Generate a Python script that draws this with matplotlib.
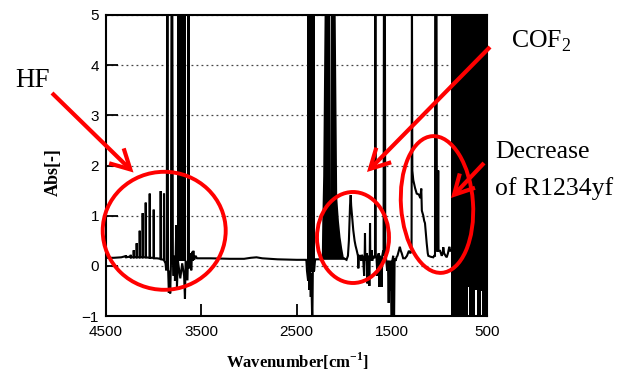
import matplotlib
matplotlib.use('Agg')
import matplotlib.pyplot as plt
from matplotlib.patches import Ellipse, FancyArrowPatch
from matplotlib.transforms import Affine2D

plt.rcParams['font.family'] = ['Liberation Sans', 'DejaVu Sans']
plt.rcParams['mathtext.fontset'] = 'custom'
plt.rcParams['mathtext.rm'] = 'Liberation Serif'
plt.rcParams['mathtext.bf'] = 'Liberation Serif:bold'
plt.rcParams['axes.unicode_minus'] = True

# ---------------- data ----------------
# spectrum trace: wavenumber [cm-1] and absorbance [-]
wavenumber = [
    4500, 4420, 4340, 4300, 4292, 4290, 4287, 4262, 4243, 4241, 4238,
    4211, 4209, 4206, 4180, 4178, 4175, 4148, 4146, 4143, 4117, 4115, 4112,
    4085, 4083, 4080, 4043, 4041, 4038, 4001, 3999, 3996, 3965, 3928, 3926, 3923,
    3893, 3891, 3888, 3875, 3868, 3862, 3858, 3853, 3849, 3840, 3832, 3826, 3818,
    3812, 3804, 3798, 3790, 3782, 3776, 3770, 3762, 3755, 3745, 3720, 3700, 3680, 3671, 3664,
    3645, 3640, 3634, 3629, 3622, 3612, 3605, 3596, 3590, 3583, 3575, 3560, 3545,
    3500, 3400, 3200, 3050, 2980, 2920, 2860, 2700, 2500, 2400,
    2396, 2390, 2378, 2372, 2365, 2358, 2350, 2345, 2334, 2328, 2315, 2306, 2300, 2250, 2240, 2230, 2000, 1985,
    1975, 1960, 1950, 1945, 1938, 1931, 1926, 1917, 1904, 1890, 1880, 1868, 1855, 1851, 1845, 1833,
    1820, 1812, 1800, 1790, 1784, 1781, 1778, 1770, 1762, 1756, 1750, 1742, 1735, 1731, 1728, 1725, 1718, 1711, 1705,
    1695, 1685, 1676, 1672, 1668, 1660, 1650, 1645, 1636, 1630, 1624, 1615, 1606, 1600, 1590, 1586, 1582, 1572, 1568,
    1560, 1548, 1540, 1532, 1526, 1518, 1512, 1500, 1494, 1485, 1476, 1470, 1460, 1448, 1440, 1425, 1415, 1405, 1395,
    1380, 1360, 1340, 1320, 1305, 1292, 1288,
    1284, 1274, 1255, 1238, 1215, 1200, 1190, 1184, 1169, 1160, 1151, 1140, 1133, 1122, 1116, 1090, 1064, 1055,
    1046, 1044, 1030, 1026, 1016, 1012, 1009, 993, 975, 965, 959, 950, 935, 923, 910, 896, 885, 878,
]
absorbance = [
    0.16, 0.16, 0.17, 0.19, 0.17, 0.21, 0.17, 0.18, 0.17, 0.22, 0.17,
    0.17, 0.31, 0.17, 0.17, 0.45, 0.17, 0.17, 0.70, 0.17, 0.17, 1.05, 0.17,
    0.17, 1.26, 0.17, 0.16, 1.44, 0.16, 0.16, 1.12, 0.15, 0.15, 0.14, 1.49, 0.13,
    0.12, 1.44, 0.10, 0.05, -0.09, 0.10, 5.5, 5.5, 0.00, -0.54, -0.10, -0.55, 0.05,
    5.5, 5.5, 0.10, -0.20, 0.20, -0.30, 0.10, 0.81, -0.42, 0.10, -0.25, 0.05, -0.20, -0.66, 0.10,
    -0.29, 0.15, 5.5, 0.15, -0.05, 0.25, -0.09, 0.28, 0.10, 0.30, 0.12, 0.20, 0.15,
    0.15, 0.15, 0.14, 0.14, 0.16, 0.17, 0.15, 0.13, 0.12, 0.12,
    0.10, -0.10, -0.30, 0.00, -0.48, 0.00, -0.62, -0.15, -1.2, 0.00, -0.10, 0.10, 0.13, 0.13, 0.12, 0.20, 0.15, 0.13,
    0.12, 0.20, 0.50, 0.80, 1.20, 1.41, 1.20, 1.00, 0.71, 0.50, 0.40, 0.31, 0.20, -0.05, 0.20, 0.20,
    0.10, 0.22, 0.15, -0.20, 0.20, 0.65, 0.20, 0.10, 0.25, -0.35, 0.20, 0.10, -0.40, 0.20, 0.85, 0.20, 0.10, 0.31, 0.10,
    0.20, 0.15, 0.20, 5.5, 0.20, 0.15, -0.20, 0.20, 0.25, -0.42, 0.20, 0.10, -0.42, 0.20, 0.30, 0.20, 5.5, 5.5, 0.20,
    0.15, -0.10, 0.10, -0.74, 0.10, -0.50, 0.10, -1.2, 0.10, 0.20, -1.2, 0.15, 0.10, 0.18, 0.20, 0.31, 0.38, 0.30, 0.25,
    0.15, 0.15, 0.20, 0.30, 0.25, 0.30, 5.5,
    1.90, 1.71, 1.55, 1.44, 1.42, 1.35, 1.54, 1.10, 1.00, 0.90, 0.85, 0.60, 0.45, 0.25, 0.20, 0.18, 0.17, 0.20,
    0.20, 5.5, 5.5, 0.30, 0.30, 1.90, 0.30, 0.30, 0.20, 0.25, 0.37, 0.25, 0.20, 0.17, 0.25, 0.38, 0.30, 0.30,
]
assert len(wavenumber) == len(absorbance)

# saturated (off-scale) absorption bands: HF P-branch and CO2
sat_band_start = [3758, 2393]
sat_band_end = [3660, 2306]
sat_band_floor = [0.10, -0.12]

# CO band envelope (dense rotational lines)
co_wn = [2240, 2235, 2225, 2215, 2208, 2152, 2148, 2144, 2096, 2078, 2060, 2043, 2025, 2009, 1995]
co_top = [0.13, 0.85, 1.80, 4.00, 5.5, 5.5, 1.30, 5.5, 5.5, 1.38, 0.90, 0.58, 0.35, 0.18, 0.13]

# fully saturated low-wavenumber region, lower edge
black_wn = [880, 698, 698, 694, 694, 628, 628, 608, 608, 558, 558, 553, 553, 500]
black_low = [-1, -1, -0.42, -0.42, -1, -1, -0.48, -0.48, -1, -1, -0.50, -0.50, -1, -1]

x_ticks = [4500, 3500, 2500, 1500, 500]
y_ticks = [-1, 0, 1, 2, 3, 4, 5]

# ---------------- figure ----------------
W, H = 628, 371
fig = plt.figure(figsize=(W / 100, H / 100), dpi=100)
ax = fig.add_axes([106 / W, 1 - 316 / H, 381 / W, 301 / H])

ax.plot(wavenumber, absorbance, color='black', lw=1.5, zorder=3, solid_joinstyle='miter')
for s, e, f in zip(sat_band_start, sat_band_end, sat_band_floor):
    ax.fill_between([s, e], [f, f], [5.5, 5.5], color='black', lw=0, zorder=3)
ax.fill_between(co_wn, [0.13] * len(co_wn), co_top, color='black', lw=0, zorder=3)
ax.fill_between(black_wn, black_low, [5.5] * len(black_wn), color='black', lw=0, zorder=3)

ax.set_xlim(4500, 500)
ax.set_ylim(-1, 5)
ax.set_xticks(x_ticks)
ax.set_yticks(y_ticks)
ax.set_axisbelow(True)
ax.yaxis.grid(True, linestyle=(0, (1.5, 2.5)), color='#444444', lw=0.9)
ax.tick_params(direction='in', length=8.6, width=1.3, labelsize=11, color='black')
ax.tick_params(axis='x', pad=6.5)
ax.tick_params(axis='y', pad=5)
for sp in ax.spines.values():
    sp.set_linewidth(1.5)

fig.text(53 / W, 1 - 172 / H, 'Abs[-]', rotation=90, ha='center', va='center',
         fontfamily='Liberation Serif', fontweight='bold', fontsize=13)
fig.text(298 / W, 1 - 368 / H, r'Wavenumber[cm$^{\mathregular{-1}}$]', ha='center', va='baseline',
         fontfamily='Liberation Serif', fontweight='bold', fontsize=12)

# ---------------- red annotations (pixel coordinates) ----------------
pix = Affine2D().scale(1, -1).translate(0, H)
red = '#ff0000'
serif = 'Liberation Serif'
fig.text(15 / W, 1 - 87 / H, 'HF', fontfamily=serif, fontsize=19.5, va='baseline')
fig.text(511 / W, 1 - 47 / H, r'COF$_\mathregular{2}$', fontfamily=serif, fontsize=18.5, va='baseline')
fig.text(495 / W, 1 - 158 / H, 'Decrease', fontfamily=serif, fontsize=18.5, va='baseline')
fig.text(495 / W, 1 - 195 / H, 'of R1234yf', fontfamily=serif, fontsize=18.5, va='baseline')

ellipses = [((164.2, 230.8), 123, 118, 0), ((353, 237.5), 72, 91, 0), ((437, 204.5), 72, 137, -4)]
for c, w, h, ang in ellipses:
    e = Ellipse(c, w, h, angle=ang, fill=False, ec=red, lw=2.8, transform=pix, clip_on=False, zorder=10)
    fig.add_artist(e)

arrows = [((52, 93), (133.5, 172.5)), ((490, 47), (367, 172)), ((484, 163), (451, 198))]
for a, b in arrows:
    arr = FancyArrowPatch(a, b, arrowstyle='->,head_length=14,head_width=7.5', color=red, lw=3,
                          shrinkA=0, shrinkB=0, transform=pix, clip_on=False, zorder=10,
                          joinstyle='miter', capstyle='butt')
    fig.add_artist(arr)

fig.savefig('out.png', dpi=100)
